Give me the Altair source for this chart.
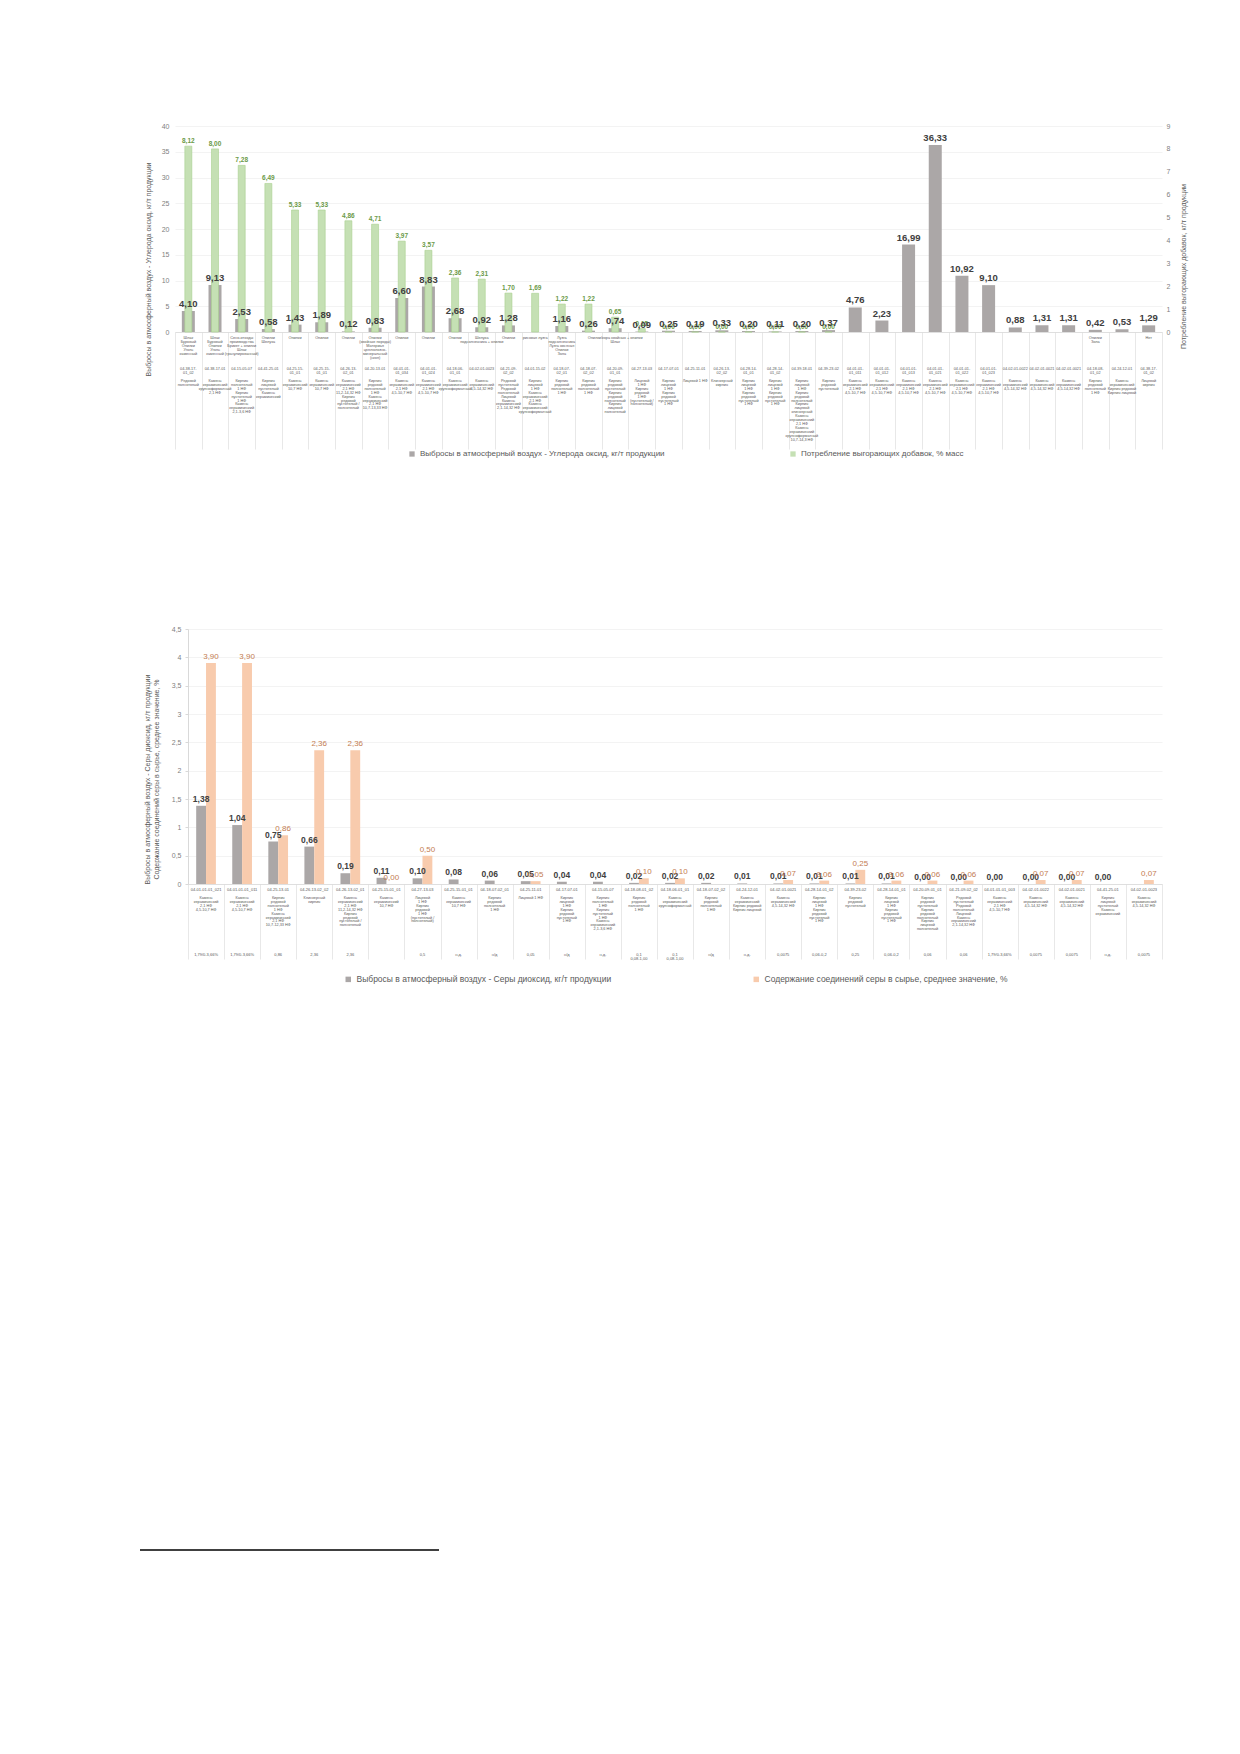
import altair as alt
import pandas as pd

FONT = "Liberation Sans"

# ---------------- top chart data ----------------
S_CO = "Выбросы в атмосферный воздух - Углерода оксид, кг/т продукции"
S_ADD = "Потребление выгорающих добавок, % масс"

top_additives = (
    ["Шлак\nБуровый\nОпилки\nУголь\nкаменный", "Шлак\nБуровый\nОпилки\nУголь\nкаменный",
     "Сено-отходы\nпроизводства\nБрикет + опилки\n\nШлак\n(гранулированный)",
     "Опилки\nШелуха", "Опилки", "Опилки", "Опилки",
     "Опилки\n(хвойные породы)\nМатериал\nцеллюлозно-\nминеральный\n(скоп)",
     "Опилки", "Опилки", "Опилки", "Шелуха\nподсолнечника + опилки", "Опилки",
     "рисовая лузга", "Лузга\nподсолнечника\nЛузга овсяная\nОпилки\nЗола", "",
     "Опилки/кора хвойных + опилки\nШлак"]
    + [""] * 17
    + ["Опилки\nЗола", "", "Нет"]
)
top_codes = [
    "04-38-17-\n01_02", "04-38-17-01", "04-15-05-07", "04-41-25-01", "04-25-15-\n01_01",
    "04-25-15-\n01_01", "04-26-13-\n02_01", "04-20-13-01", "04-01-01-\n01_034", "04-01-01-\n01_024",
    "04-18-06-\n01_01", "04-02-01-0023", "04-21-09-\n02_02", "04-01-15-02", "04-18-07-\n02_01",
    "04-18-07-\n02_02", "04-20-09-\n01_01", "04-27-13-03", "04-17-07-01", "04-25-11-01",
    "04-26-13-\n02_02", "04-28-14-\n01_01", "04-28-14-\n01_02", "04-39-18-01", "04-39-23-02",
    "04-01-01-\n01_011", "04-01-01-\n01_012", "04-01-01-\n01_013", "04-01-01-\n01_021",
    "04-01-01-\n01_022", "04-01-01-\n01_023", "04-02-01-0022", "04-02-01-0021", "04-02-01-0021",
    "04-18-08-\n01_02", "04-24-12-01", "04-38-17-\n01_02",
]
K21 = "Камень\nкерамический\n2,1 НФ\n4,5-10,7 НФ"
K45 = "Камень\nкерамический\n4,5-14,32 НФ"
KL = "Кирпич\nлицевой\n1 НФ\nКирпич\nрядовой\nпустотелый\n1 НФ"
top_products = [
    "Рядовой\nполнотелый", "Камень\nкерамический\nкрупноформатный\n2,1 НФ",
    "Кирпич\nполнотелый\n1 НФ\nКирпич\nпустотелый\n1 НФ\nКамень\nкерамический\n2,1-3,6 НФ",
    "Кирпич\nлицевой\nпустотелый\nКамень\nкерамический",
    "Камень\nкерамический\n10,7 НФ", "Камень\nкерамический\n10,7 НФ",
    "Камень\nкерамический\n2,1 НФ\n11,2-14,32 НФ\nКирпич\nрядовой\nпустотелый /\nполнотелый",
    "Кирпич\nрядовой\nполнотелый\n1 НФ\nКамень\nкерамический\n2,1 НФ\n10,7-13,33 НФ",
    K21, K21, "Камень\nкерамический\nкрупноформатный", K45,
    "Рядовой\nпустотелый\nРядовой\nполнотелый\nЛицевой\nКамень\nкерамический\n2,1-14,32 НФ",
    "Кирпич\nлицевой\n1 НФ\nКамень\nкерамический\n2,1 НФ\nКамень\nкерамический\nкрупноформатный",
    "Кирпич\nрядовой\nполнотелый\n1 НФ", "Кирпич\nрядовой\nполнотелый\n1 НФ",
    "Кирпич\nрядовой\nпустотелый\nКирпич\nрядовой\nполнотелый\nКирпич\nлицевой\nполнотелый",
    "Лицевой\n1 НФ\nКирпич\nрядовой\n1 НФ\n(пустотелый /\nполнотелый)",
    KL, "Лицевой 1 НФ", "Клинкерный\nкирпич", KL, KL,
    "Кирпич\nлицевой\n1 НФ\nКирпич\nрядовой\nполнотелый\nКирпич\nлицевой\nклинкерный\nКамень\nкерамический\n2,1 НФ\nКамень\nкерамический\nкрупноформатный\n10,7-14,3 НФ",
    "Кирпич\nрядовой\nпустотелый",
    K21, K21, K21, K21, K21, K21, K45, K45, K45,
    "Кирпич\nрядовой\nполнотелый\n1 НФ", "Камень\nкерамический\nКирпич рядовой\nКирпич лицевой",
    "Лицевой\nкирпич",
]
co_emissions = [4.10, 9.13, 2.53, 0.58, 1.43, 1.89, 0.12, 0.83, 6.60, 8.83, 2.68, 0.92, 1.28,
                None, 1.16, 0.26, 0.74, 0.09, 0.25, 0.19, 0.33, 0.20, 0.11, 0.20, 0.37,
                4.76, 2.23, 16.99, 36.33, 10.92, 9.10, 0.88, 1.31, 1.31, 0.42, 0.53, 1.29]
additive_use = [8.12, 8.00, 7.28, 6.49, 5.33, 5.33, 4.86, 4.71, 3.97, 3.57, 2.36, 2.31, 1.70,
                1.69, 1.22, 1.22, 0.65, 0.15, 0.00, 0.00, 0.00, 0.00, 0.00, 0.00, 0.00,
                None, None, None, None, None, None, None, None, None, None, None, None]

# ---------------- bottom chart data ----------------
S_SO2 = "Выбросы в атмосферный воздух - Серы диоксид, кг/т продукции"
S_SUL = "Содержание соединений серы в сырье, среднее значение, %"

bot_codes = [
    "04-01-01-01_021", "04-01-01-01_011", "04-25-13-01", "04-26-13-02_02", "04-26-13-02_01",
    "04-25-15-01_01", "04-27-13-03", "04-25-15-01_01", "04-18-07-02_01", "04-25-11-01",
    "04-17-07-01", "04-15-05-07", "04-18-08-01_02", "04-18-06-01_01", "04-18-07-02_02",
    "04-24-12-01", "04-02-01-0021", "04-28-14-01_02", "04-39-23-02", "04-28-14-01_01",
    "04-20-09-01_01", "04-21-09-02_02", "04-01-01-01_003", "04-02-01-0022", "04-02-01-0021",
    "04-41-25-01", "04-02-01-0023",
]
bot_products = [
    K21, K21,
    "Кирпич\nрядовой\nполнотелый\n1 НФ\nКамень\nкерамический\n2,1 НФ\n10,7-12,33 НФ",
    "Клинкерный\nкирпич",
    "Камень\nкерамический\n2,1 НФ\n11,2-14,32 НФ\nКирпич\nрядовой\nпустотелый /\nполнотелый",
    "Камень\nкерамический\n10,7 НФ",
    "Лицевой\n1 НФ\nКирпич\nрядовой\n1 НФ\n(пустотелый /\nполнотелый)",
    "Камень\nкерамический\n10,7 НФ", "Кирпич\nрядовой\nполнотелый\n1 НФ", "Лицевой 1 НФ", KL,
    "Кирпич\nполнотелый\n1 НФ\nКирпич\nпустотелый\n1 НФ\nКамень\nкерамический\n2,1-3,6 НФ",
    "Кирпич\nрядовой\nполнотелый\n1 НФ", "Камень\nкерамический\nкрупноформатный",
    "Кирпич\nрядовой\nполнотелый\n1 НФ", "Камень\nкерамический\nКирпич рядовой\nКирпич лицевой",
    K45, KL, "Кирпич\nрядовой\nпустотелый", KL,
    "Кирпич\nрядовой\nпустотелый\nКирпич\nрядовой\nполнотелый\nКирпич\nлицевой\nполнотелый",
    "Рядовой\nпустотелый\nРядовой\nполнотелый\nЛицевой\nКамень\nкерамический\n2,1-14,32 НФ",
    K21, K45, K45, "Кирпич\nлицевой\nпустотелый\nКамень\nкерамический", K45,
]
bot_notes = ["1,79/0-3,66%", "1,79/0-3,66%", "0,86", "2,36", "2,36", "", "0,5", "н.д.", "н/д",
             "0,05", "н/д", "н.д.", "0,1\n0,08-1,00", "0,1\n0,08-1,00", "н/д", "н.д.", "0,0075",
             "0,06-0,2", "0,25", "0,06-0,2", "0,06", "0,06", "1,79/0-3,66%", "0,0075", "0,0075",
             "н.д.", "0,0075"]
so2_emissions = [1.38, 1.04, 0.75, 0.66, 0.19, 0.11, 0.10, 0.08, 0.06, 0.05, 0.04, 0.04, 0.02,
                 0.02, 0.02, 0.01, 0.01, 0.01, 0.01, 0.01, 0.00, 0.00, 0.00, 0.00, 0.00, 0.00, None]
sulfur_content = [3.90, 3.90, 0.86, 2.36, 2.36, 0.00, 0.50, None, None, 0.05, None, None, 0.10,
                  0.10, None, None, 0.07, 0.06, 0.25, 0.06, 0.06, 0.06, None, 0.07, 0.07, None, 0.07]

GRAY = "#aba7a7"
GREEN = "#c5e0b4"
ORANGE = "#f8cbad"
TXT = "#595959"
COMMA = "replace(format(datum.value, '~g'), '.', ',')"


def fmt(v):
    return f"{v:.2f}".replace(".", ",")


def long_rows(values, series):
    return pd.DataFrame([{"k": i, "series": series, "v": v, "lbl": fmt(v)}
                         for i, v in enumerate(values) if v is not None])


def row(df, field, ypix, size=3.8, lh=3.9):
    return alt.Chart(df).mark_text(baseline="top", fontSize=size, lineBreak="\n", lineHeight=lh,
                                   color=TXT, font=FONT).encode(
        x=alt.X("k:O"), y=alt.value(ypix), text=f"{field}:N")


# ---------------- top chart ----------------
NT = len(top_codes)
TW, TH = 987, 206
df_co = long_rows(co_emissions, S_CO)
df_add = long_rows(additive_use, S_ADD)
df_tlab = pd.DataFrame({"k": list(range(NT)), "add": top_additives,
                        "code": top_codes, "prod": top_products})

xt = alt.X("k:O", scale=alt.Scale(domain=list(range(NT)), paddingInner=0, paddingOuter=0),
           axis=alt.Axis(labels=False, title=None, ticks=True, tickBand="extent", tickSize=117,
                         tickColor="#d9d9d9", tickWidth=0.6, domainColor="#d9d9d9",
                         domainWidth=0.8, grid=False))
col_t = alt.Color("series:N", scale=alt.Scale(domain=[S_CO, S_ADD], range=[GRAY, GREEN]),
                  legend=alt.Legend(orient="none", legendX=233, legendY=324, direction="horizontal",
                                    title=None, symbolType="square", symbolSize=28,
                                    labelFontSize=8, labelColor=TXT, labelFont=FONT,
                                    columnPadding=124, labelLimit=500, symbolStrokeWidth=0))

y_co = alt.Y("v:Q", scale=alt.Scale(domain=[0, 40]),
             axis=alt.Axis(orient="left", values=list(range(0, 45, 5)), title=S_CO,
                           titleFontSize=7, titleFontWeight="normal", titleColor=TXT,
                           titlePadding=10, titleY=143, labelFontSize=7, labelColor="#7f7f7f",
                           labelPadding=6, labelOverlap=False, ticks=False, domain=False,
                           grid=True, gridColor="#eeeeee", gridWidth=0.7))
y_add = alt.Y("v:Q", scale=alt.Scale(domain=[0, 9]),
              axis=alt.Axis(orient="right", values=list(range(0, 10)),
                            title="Потребление выгорающих добавок, кг/т продукции",
                            titleFontSize=7, titleFontWeight="normal", titleColor=TXT,
                            titleAngle=270, titlePadding=17, titleY=140, labelFontSize=7,
                            labelColor="#7f7f7f", labelPadding=4, labelOverlap=False,
                            ticks=False, domain=False, grid=False))

co_bar = alt.Chart(df_co).mark_bar(size=13).encode(x=xt, y=y_co, color=col_t)
add_bar = alt.Chart(df_add).mark_bar(size=7, stroke="#a9d08e", strokeWidth=0.6).encode(
    x=xt, y=y_add, color=col_t)
co_txt = alt.Chart(df_co).mark_text(dy=-2, baseline="bottom", fontSize=9.5, fontWeight="bold",
                                    color="#404040", font=FONT).encode(
    x=xt, y=alt.Y("v:Q", scale=alt.Scale(domain=[0, 40]), axis=None), text="lbl:N")
add_txt = alt.Chart(df_add).mark_text(dy=-2, baseline="bottom", fontSize=6.5, fontWeight="bold",
                                      color="#6b9a48", font=FONT).encode(
    x=xt, y=alt.Y("v:Q", scale=alt.Scale(domain=[0, 9]), axis=None), text="lbl:N")

top = alt.layer(
    co_bar, add_bar, add_txt, co_txt,
    row(df_tlab, "add", TH + 4),
    row(df_tlab, "code", TH + 35),
    row(df_tlab, "prod", TH + 47),
).resolve_scale(y="independent").properties(width=TW, height=TH)

# ---------------- bottom chart ----------------
NB = len(bot_codes)
BW, BH = 987, 255
BL = 13  # bottom plot starts a little to the right of the top one
df_so2 = long_rows(so2_emissions, S_SO2)
df_sul = long_rows(sulfur_content, S_SUL)
df_b = pd.concat([df_so2, df_sul], ignore_index=True)
df_blab = pd.DataFrame({"k": list(range(NB)), "code": bot_codes, "prod": bot_products,
                        "note": bot_notes})

xb = alt.X("k:O", scale=alt.Scale(domain=list(range(NB)), range=[BL, BW], paddingInner=0,
                                  paddingOuter=0),
           axis=alt.Axis(labels=False, title=None, ticks=True, tickBand="extent", tickSize=75,
                         tickColor="#d9d9d9", tickWidth=0.6, domainColor="#d9d9d9",
                         domainWidth=0.8, grid=False))
xo = alt.XOffset("series:N", scale=alt.Scale(domain=[S_SO2, S_SUL], paddingInner=0,
                                              paddingOuter=0.83))
yb = alt.Y("v:Q", scale=alt.Scale(domain=[0, 4.5]),
           axis=alt.Axis(values=[0, 0.5, 1, 1.5, 2, 2.5, 3, 3.5, 4, 4.5], labelExpr=COMMA,
                         offset=-BL,
                         title=[S_SO2, S_SUL], titleFontSize=7, titleFontWeight="normal",
                         titleColor=TXT, titlePadding=12, titleY=150, labelFontSize=7,
                         labelColor="#7f7f7f", labelPadding=4, labelOverlap=False,
                         ticks=True, tickSize=3, tickColor="#d9d9d9",
                         domain=True, domainColor="#d9d9d9", grid=True, gridColor="#eeeeee",
                         gridWidth=0.7))
col_b = alt.Color("series:N", scale=alt.Scale(domain=[S_SO2, S_SUL], range=[GRAY, ORANGE]),
                  legend=alt.Legend(orient="none", legendX=169, legendY=346,
                                    direction="horizontal", title=None, symbolType="square",
                                    symbolSize=30, labelFontSize=8.5, labelColor=TXT,
                                    labelFont=FONT, columnPadding=140, labelLimit=500,
                                    symbolStrokeWidth=0))

b_bar = alt.Chart(df_b).mark_bar().encode(x=xb, xOffset=xo, y=yb, color=col_b)
so2_txt = alt.Chart(df_so2).mark_text(dy=-2, baseline="bottom", fontSize=8.5, fontWeight="bold",
                                      color="#404040", font=FONT).encode(
    x=xb, xOffset=xo, y=yb, text="lbl:N")
sul_txt = alt.Chart(df_sul).mark_text(dy=-2, baseline="bottom", fontSize=8, color="#c47d52",
                                      font=FONT).encode(x=xb, xOffset=xo, y=yb, text="lbl:N")

bottom = alt.layer(
    b_bar, so2_txt, sul_txt,
    row(df_blab, "code", BH + 4, size=4.0),
    row(df_blab, "prod", BH + 12),
    row(df_blab, "note", BH + 69, size=4.0),
).properties(width=BW, height=BH)

# footnote separator line
RH = 399
sep = alt.Chart(pd.DataFrame({"a": [0]})).mark_rule(color="#000000", strokeWidth=1.3).encode(
    x=alt.value(-35), x2=alt.value(264), y=alt.value(RH)).properties(width=300, height=RH)

chart = alt.vconcat(top, bottom, sep, spacing=167).resolve_scale(
    color="independent").resolve_legend(color="independent").properties(
    padding={"left": 131, "top": 114, "right": 5, "bottom": 5}
).configure(font=FONT).configure_view(stroke=None)

chart.save("out.html", embed_options={"renderer": "svg", "actions": False})
